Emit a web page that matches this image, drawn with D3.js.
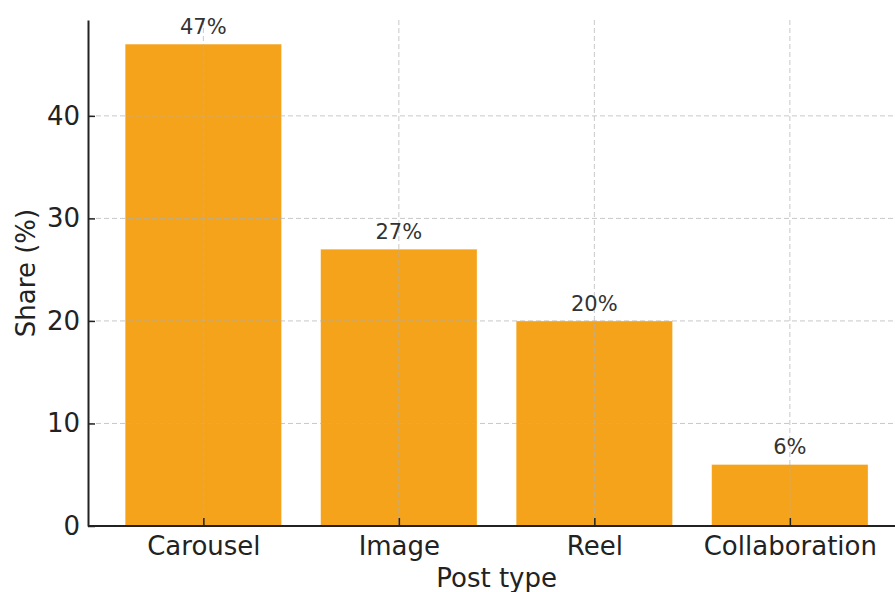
<!DOCTYPE html>
<html>
<head>
<meta charset="utf-8">
<script src="https://cdn.jsdelivr.net/npm/d3@7"></script>
<style>
  html, body { margin: 0; padding: 0; background: #fff; }
  svg { display: block; font-family: "DejaVu Sans", sans-serif; }
</style>
</head>
<body>
<svg id="chart" width="895" height="592"></svg>
<script>
// Share of posts by type
const categories = ["Carousel", "Image", "Reel", "Collaboration"];
const shares = [47, 27, 20, 6];
const yTicks = [0, 10, 20, 30, 40];
const xLabel = "Post type";
const yLabel = "Share (%)";

const svg = d3.select("#chart");
const W = 895, H = 592;
const plot = { left: 88, top: 20, bottom: 526 };

// Bars span ±0.4 around each index, with 5% padding on the x extent
const x = d3.scaleLinear().domain([-0.59, categories.length - 1 + 0.59])
  .range([plot.left, plot.left + 4.18 * 195.5]);
const y = d3.scaleLinear().domain([0, 49.35]).range([plot.bottom, plot.top]);
const barW = x(0.4) - x(-0.4);

// Bars
svg.append("g").selectAll("rect").data(shares).join("rect")
  .attr("x", (d, i) => x(i) - barW / 2)
  .attr("y", d => y(d))
  .attr("width", barW)
  .attr("height", d => y(0) - y(d))
  .attr("fill", "#F5A31A")
  .attr("stroke", "#fff")
  .attr("stroke-opacity", 0.45)
  .attr("stroke-width", 0.8);

// Dashed grid over the bars
const grid = svg.append("g")
  .attr("stroke", "#b0b0b0")
  .attr("stroke-opacity", 0.7)
  .attr("stroke-width", 1)
  .attr("stroke-dasharray", "5,3");
grid.selectAll("line.h").data(yTicks).join("line")
  .attr("class", "h")
  .attr("x1", plot.left).attr("x2", W)
  .attr("y1", d => y(d)).attr("y2", d => y(d));
grid.selectAll("line.v").data(categories).join("line")
  .attr("class", "v")
  .attr("x1", (d, i) => x(i)).attr("x2", (d, i) => x(i))
  .attr("y1", plot.top).attr("y2", plot.bottom);

// Value labels
svg.append("g").selectAll("text").data(shares).join("text")
  .attr("x", (d, i) => x(i))
  .attr("y", d => y(d) - 10)
  .attr("text-anchor", "middle")
  .attr("fill", "#333")
  .attr("font-size", 21)
  .text(d => d + "%");

// Axes
const yAxis = d3.axisLeft(y).tickValues(yTicks).tickSizeInner(-7).tickSizeOuter(0).tickPadding(8);
const xAxis = d3.axisBottom(x).tickValues(d3.range(categories.length))
  .tickFormat(i => categories[i]).tickSizeInner(-8).tickSizeOuter(0).tickPadding(11);

const gy = svg.append("g").attr("transform", `translate(${plot.left},0)`).call(yAxis);
const gx = svg.append("g").attr("transform", `translate(0,${plot.bottom})`).call(xAxis);

[gx, gy].forEach(g => {
  g.select(".domain").attr("stroke", "#222").attr("stroke-width", 2);
  g.selectAll(".tick line").attr("stroke", "#222").attr("stroke-width", 1.5);
  g.selectAll(".tick text").attr("fill", "#222").attr("font-size", 26)
    .attr("font-family", "DejaVu Sans, sans-serif");
});
gx.select(".domain").attr("d", `M${plot.left},0H${W}`);

// Axis titles
svg.append("text")
  .attr("x", x(1.5))
  .attr("y", 587)
  .attr("text-anchor", "middle")
  .attr("fill", "#222")
  .attr("font-size", 26)
  .text(xLabel);

svg.append("text")
  .attr("transform", `translate(35,${(plot.top + plot.bottom) / 2}) rotate(-90)`)
  .attr("text-anchor", "middle")
  .attr("fill", "#222")
  .attr("font-size", 26)
  .text(yLabel);
</script>
</body>
</html>
